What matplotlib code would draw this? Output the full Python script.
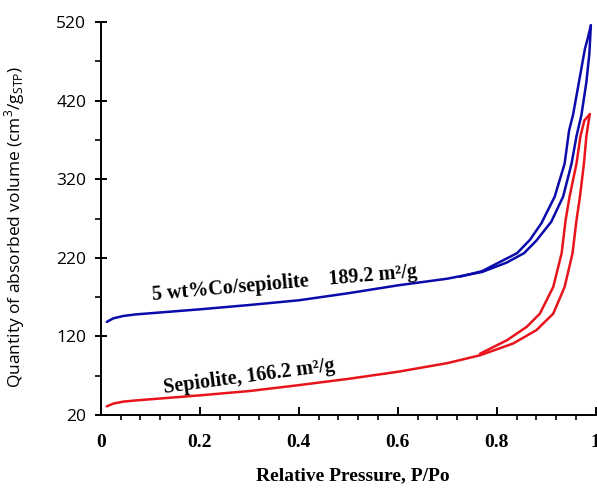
import numpy as np
import matplotlib
matplotlib.use("Agg")
import matplotlib.pyplot as plt
from matplotlib.ticker import MultipleLocator, FixedLocator

# N2 isotherms (P/Po, cm3/g STP)
p_co_ads = [0.012, 0.025, 0.045, 0.07, 0.1, 0.15, 0.2, 0.3, 0.4, 0.5, 0.6, 0.7, 0.77,
            0.82, 0.855, 0.88, 0.91, 0.934, 0.951, 0.961, 0.971, 0.981, 0.987, 0.990]
v_co_ads = [138.5, 143, 146, 148, 149.5, 152, 154.5, 160, 166, 175, 185, 193.5, 202,
            214, 226, 242, 266, 298, 340, 375, 402, 444, 480, 516]
p_co_des = [0.990, 0.984, 0.978, 0.966, 0.954, 0.946, 0.937, 0.917, 0.890, 0.867,
            0.841, 0.81, 0.77, 0.725]
v_co_des = [516, 500, 486, 444, 402, 382, 340, 298, 264, 243, 226, 216, 203, 196]

p_sep_ads = [0.012, 0.025, 0.045, 0.07, 0.1, 0.15, 0.2, 0.3, 0.4, 0.5, 0.6, 0.7, 0.766,
             0.833, 0.88, 0.914, 0.937, 0.953, 0.961, 0.968, 0.976, 0.981, 0.986, 0.988]
v_sep_ads = [31, 34.5, 37, 38.5, 40, 42.5, 45, 50.5, 58, 66, 75, 86, 96,
             111, 128, 149, 183, 226, 268, 298, 340, 375, 396, 403]
p_sep_des = [0.988, 0.984, 0.977, 0.969, 0.961, 0.947, 0.939, 0.931, 0.914, 0.887,
             0.860, 0.820, 0.766]
v_sep_des = [403, 400, 395, 375, 340, 298, 268, 226, 183, 149, 132, 115, 98]

x_ticks = [0, 0.2, 0.4, 0.6, 0.8, 1.0]
x_ticklabels = ["0", "0.2", "0.4", "0.6", "0.8", "1"]
y_ticks = [20, 120, 220, 320, 420, 520]

blue = "#0b0bab"
red = "#e8141c"

plt.rcParams['mathtext.fontset'] = 'custom'
plt.rcParams['mathtext.rm'] = 'Open Sans'

fig = plt.figure(figsize=(5.97, 4.88), dpi=100)
ax = fig.add_axes([0.169, 0.1496, 0.829, 0.805])

line_kw = dict(lw=1.8, solid_joinstyle='round', solid_capstyle='round')
ax.plot(p_co_ads, v_co_ads, color=blue, **line_kw)
ax.plot(p_co_des, v_co_des, color=blue, **line_kw)
ax.plot(p_sep_ads, v_sep_ads, color=red, **line_kw)
ax.plot(p_sep_des, v_sep_des, color=red, **line_kw)

ax.set_xlim(0, 1)
ax.set_ylim(20, 520)

# axes look: only left/bottom spines
for s in ['top', 'right']:
    ax.spines[s].set_visible(False)
for s in ['left', 'bottom']:
    ax.spines[s].set_linewidth(1.4)

ax.xaxis.set_major_locator(FixedLocator(x_ticks))
ax.set_xticklabels(x_ticklabels, fontfamily='Liberation Serif', fontweight='bold', fontsize=14)
ax.xaxis.set_minor_locator(MultipleLocator(0.04))
ax.tick_params(axis='x', which='major', direction='in', length=6, width=1.4, pad=14)
ax.tick_params(axis='x', which='minor', direction='out', length=3.5, width=1.2)

ax.yaxis.set_major_locator(FixedLocator(y_ticks))
ax.set_yticklabels([str(t) for t in y_ticks], fontfamily='Open Sans', fontsize=12.5)
ax.yaxis.set_minor_locator(FixedLocator([70, 170, 270, 370, 470]))
ax.tick_params(axis='y', which='major', direction='inout', length=9, width=1.4, pad=6)
ax.tick_params(axis='y', which='minor', direction='out', length=4, width=1.2)

ax.set_xlabel("Relative Pressure, P/Po", fontfamily='Liberation Serif',
              fontweight='bold', fontsize=14)
ax.xaxis.set_label_coords(0.51, -0.132)
ax.set_ylabel("Quantity of absorbed volume (cm$^{3}$/g$_{\\mathrm{STP}}$)",
              fontfamily='Open Sans', fontsize=12.5)
ax.yaxis.set_label_coords(-0.15, 0.48)

# surface area labels
ax.text(0.105, 166, "5 wt%Co/sepiolite    189.2 m\u00b2/g", rotation=5,
        rotation_mode='anchor', fontfamily='Liberation Serif', fontweight='bold',
        fontsize=14.5)
ax.text(0.129, 48, "Sepiolite, 166.2 m\u00b2/g", rotation=7.5,
        rotation_mode='anchor', fontfamily='Liberation Serif', fontweight='bold',
        fontsize=14.5)

plt.savefig("out.png", dpi=100)
